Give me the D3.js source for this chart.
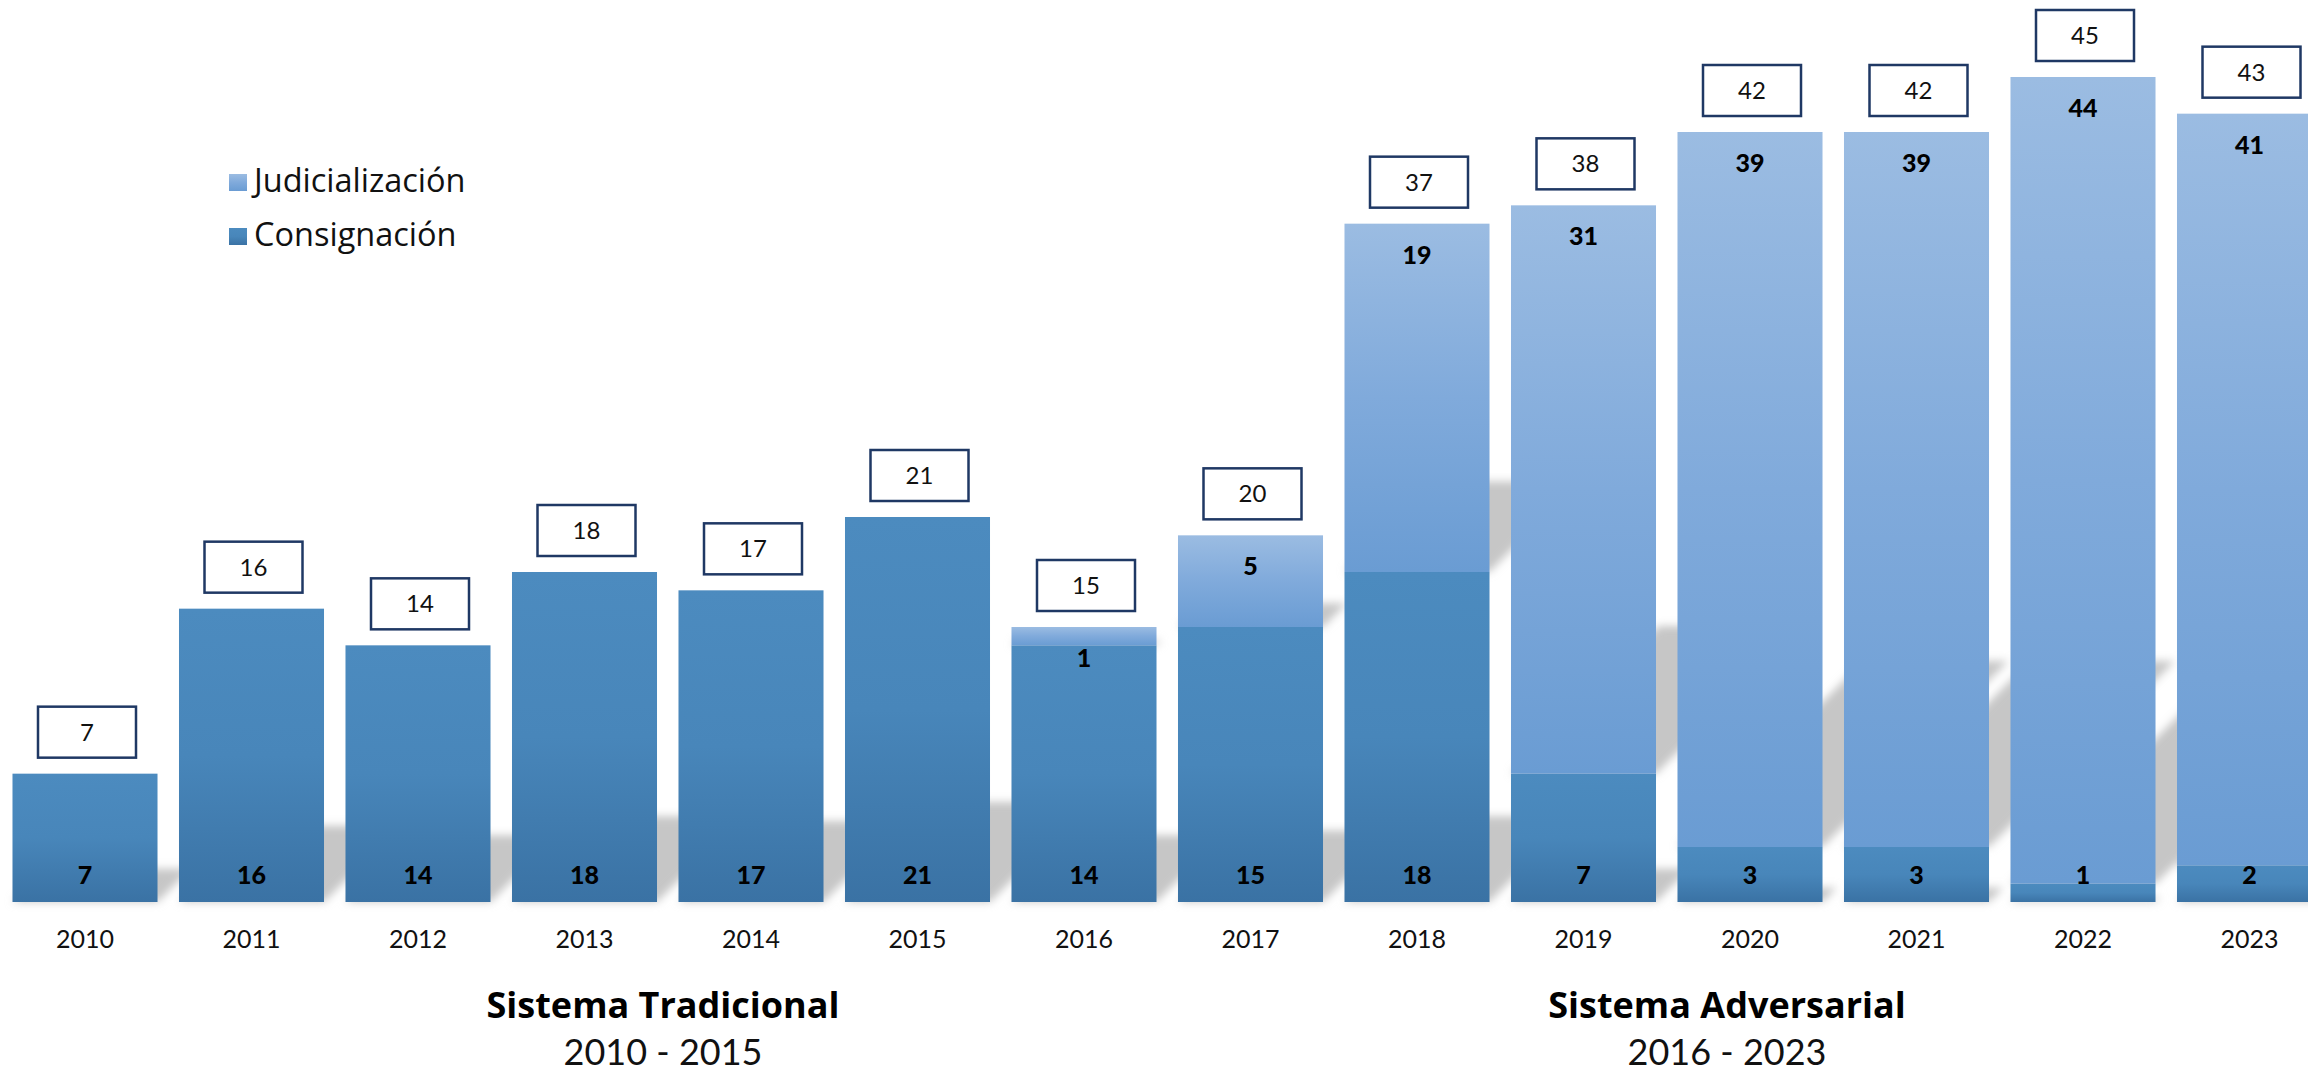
<!DOCTYPE html>
<html>
<head>
<meta charset="utf-8">
<script src="https://cdn.jsdelivr.net/npm/d3@7"></script>
<style>
  html, body { margin: 0; padding: 0; background: #fff; overflow: hidden; }
  svg { display: block; }
</style>
</head>
<body>
<div id="chart"></div>
<script>
// ---- data ----
const years = ["2010","2011","2012","2013","2014","2015","2016","2017","2018","2019","2020","2021","2022","2023"];
const consignacion =    [7, 16, 14, 18, 17, 21, 14, 15, 18,  7,  3,  3,  1,  2];
const judicializacion = [0,  0,  0,  0,  0,  0,  1,  5, 19, 31, 39, 39, 44, 41];
const totals =          [7, 16, 14, 18, 17, 21, 15, 20, 37, 38, 42, 42, 45, 43];
const seriesNames = ["Judicialización", "Consignación"];
const groupTitles = ["Sistema Tradicional", "Sistema Adversarial"];
const groupRanges = ["2010 - 2015", "2016 - 2023"];

// ---- layout ----
const W = 2308, H = 1073;
const base = 902;
const LATO = "Lato, 'Open Sans', sans-serif";
const OPEN = "'Open Sans', Lato, sans-serif";
const svg = d3.select("#chart").append("svg").attr("width", W).attr("height", H);

const x = d3.scaleBand().domain(years).range([1.75, 2332.75]).paddingInner(0.129).paddingOuter(0.0645);
const y = d3.scaleLinear().domain([0, 45]).range([base, 77]);

const defs = svg.append("defs");
function grad(id, stops) {
  const g = defs.append("linearGradient").attr("id", id).attr("x1", 0).attr("y1", 0).attr("x2", 0).attr("y2", 1);
  stops.forEach(s => g.append("stop").attr("offset", s[0]).attr("stop-color", s[1]));
}
grad("gCons", [[0, "#4c8bbf"], [0.5, "#4886ba"], [1, "#3a72a4"]]);
grad("gJud", [[0, "#9bbce2"], [0.5, "#80aadb"], [1, "#6a9cd3"]]);
defs.append("filter").attr("id", "blur").attr("x", "-50%").attr("y", "-50%").attr("width", "200%").attr("height", "200%")
  .append("feGaussianBlur").attr("stdDeviation", 4);

// build segments
const segs = [];
years.forEach((yr, i) => {
  segs.push({ yr, s: "cons", v0: 0, v1: consignacion[i], val: consignacion[i] });
  if (judicializacion[i] > 0)
    segs.push({ yr, s: "jud", v0: consignacion[i], v1: consignacion[i] + judicializacion[i], val: judicializacion[i] });
});

// shadows (perspective, per segment)
const shK = 0.26, shR = 1.0;
svg.append("g").attr("filter", "url(#blur)")
  .selectAll("path").data(segs).join("path")
  .attr("fill", "#c6c6c6")
  .attr("d", d => {
    const x0 = x(d.yr), x1 = x0 + x.bandwidth();
    const b = y(d.v0), h = (y(d.v0) - y(d.v1)) * shK, dx = h * shR;
    return `M${x0},${b}L${x1},${b}L${x1 + dx},${b - h}L${x0 + dx},${b - h}Z`;
  });

// bars
svg.append("g").selectAll("rect").data(segs).join("rect")
  .attr("x", d => x(d.yr))
  .attr("width", x.bandwidth())
  .attr("y", d => y(d.v1))
  .attr("height", d => y(d.v0) - y(d.v1))
  .attr("fill", d => d.s === "cons" ? "url(#gCons)" : "url(#gJud)");

// segment labels
svg.append("g").selectAll("text").data(segs).join("text")
  .attr("x", d => x(d.yr) + x.bandwidth() / 2)
  .attr("y", d => d.s === "cons" ? base - 18 : y(d.v1) + 40)
  .attr("text-anchor", "middle")
  .style("font-family", LATO)
  .attr("font-size", 25).attr("font-weight", 900).attr("fill", "#000")
  .text(d => d.val);

// total boxes
const boxW = 98, boxH = 51, boxGap = 16;
const tg = svg.append("g").selectAll("g").data(years).join("g")
  .attr("transform", (d, i) => `translate(${x(d) + x.bandwidth() / 2 + 2},${y(totals[i]) - boxGap - boxH / 2})`);
tg.append("rect").attr("x", -boxW / 2).attr("y", -boxH / 2).attr("width", boxW).attr("height", boxH)
  .attr("fill", "#fff").attr("stroke", "#1f3864").attr("stroke-width", 2.5);
tg.append("text").attr("text-anchor", "middle").attr("dy", "0.36em")
  .style("font-family", LATO)
  .attr("font-size", 24).attr("fill", "#111").text((d, i) => totals[i]);

// x axis
const xAxis = svg.append("g").attr("transform", `translate(0,${base})`)
  .call(d3.axisBottom(x).tickSize(0).tickPadding(28));
xAxis.select(".domain").remove();
xAxis.selectAll("text").attr("font-size", 25).attr("fill", "#111")
  .style("font-family", LATO).attr("dy", "0.71em");

// legend
const legend = svg.append("g").attr("transform", "translate(229,0)");
const legY = [182, 236];
const legFill = ["url(#gJud)", "url(#gCons)"];
seriesNames.forEach((n, i) => {
  legend.append("rect").attr("x", 0).attr("y", legY[i] - 8).attr("width", 18).attr("height", 17).attr("fill", legFill[i]);
  legend.append("text").attr("x", 25).attr("y", legY[i] + 10).attr("font-size", 32.5)
    .style("font-family", OPEN).attr("fill", "#111").text(n);
});

// group titles
const gx = [663, 1727];
groupTitles.forEach((t, i) => {
  svg.append("text").attr("x", gx[i]).attr("y", 1018).attr("text-anchor", "middle")
    .style("font-family", OPEN)
    .attr("font-size", 36).attr("font-weight", 700).attr("fill", "#000").text(t);
  svg.append("text").attr("x", gx[i]).attr("y", 1065).attr("text-anchor", "middle")
    .style("font-family", LATO)
    .attr("font-size", 36).attr("fill", "#111").text(groupRanges[i]);
});
</script>
</body>
</html>
